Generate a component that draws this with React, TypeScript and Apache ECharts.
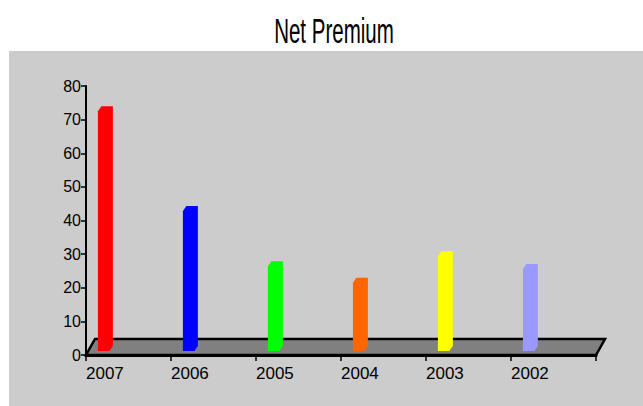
import React, { useEffect, useRef } from "react";
import * as echarts from "echarts";

// Net premium per year, newest first
const categories = ["2007", "2006", "2005", "2004", "2003", "2002"];
const premiums = [71.3, 41.6, 25.2, 20.3, 28.2, 24.4];
const barColors = ["#ff0000", "#0000ff", "#00ff00", "#ff6600", "#ffff00", "#9999ff"];
const yMax = 80;
const yStep = 10;

const FONT = "'Liberation Sans', Arial, sans-serif";

export default function App() {
  const ref = useRef<HTMLDivElement>(null);

  useEffect(() => {
    if (!ref.current) return;
    const chart = echarts.init(ref.current, null, { renderer: "svg" });

    // depth of the floor slab, in pixels (back edge offset)
    const floorDx = 9;
    const floorDy = -16;

    chart.setOption({
      animation: false,
      backgroundColor: "#ffffff",
      graphic: [
        {
          type: "rect",
          z: -10,
          shape: { x: 9, y: 51, width: 634, height: 355 },
          style: { fill: "#cccccc" },
        },
        {
          // condensed title lettering
          type: "text",
          x: 334,
          y: 30,
          scaleX: 0.57,
          style: {
            text: "Net Premium",
            fontFamily: FONT,
            fontSize: 36,
            fill: "#000000",
            align: "center",
            verticalAlign: "middle",
          },
        },
      ],
      grid: { left: 86, right: 47, top: 86, bottom: 51, containLabel: false },
      xAxis: {
        type: "value",
        min: 0,
        max: categories.length,
        interval: 1,
        splitLine: { show: false },
        axisLine: { show: true, lineStyle: { color: "#000000", width: 3 } },
        axisTick: { show: true, length: 6, lineStyle: { color: "#000000", width: 1.5 } },
        axisLabel: {
          formatter: (v: number) => categories[v] ?? "",
          align: "left",
          margin: 10,
          color: "#000000",
          fontFamily: FONT,
          fontSize: 17,
        },
        z: 5,
      },
      yAxis: {
        type: "value",
        min: 0,
        max: yMax,
        interval: yStep,
        splitLine: { show: false },
        axisLine: { show: true, lineStyle: { color: "#000000", width: 2 } },
        axisTick: { show: true, length: 5, lineStyle: { color: "#000000", width: 1.5 } },
        axisLabel: {
          margin: 5,
          color: "#000000",
          fontFamily: FONT,
          fontSize: 16,
        },
      },
      series: [
        {
          // floor slab under the columns
          type: "custom",
          z: 1,
          silent: true,
          data: [[0]],
          renderItem: (_params: any, api: any) => {
            const a = api.coord([0, 0]);
            const b = api.coord([categories.length, 0]);
            return {
              type: "polygon",
              shape: {
                points: [
                  [a[0], a[1]],
                  [b[0], b[1]],
                  [b[0] + floorDx, b[1] + floorDy],
                  [a[0] + floorDx, a[1] + floorDy],
                ],
              },
              style: { fill: "#808080", stroke: "#000000", lineWidth: 2.5 },
            };
          },
        },
        {
          // 3-D style columns
          type: "custom",
          z: 3,
          data: premiums.map((v, i) => [i, v]),
          renderItem: (params: any, api: any) => {
            const i = api.value(0);
            const v = api.value(1);
            const base = api.coord([i, 0]);
            const top = api.coord([i, v]);
            const band = api.size([1, 0])[0];
            const sink = 4;
            const dx = 3.5;
            const dy = -5;
            const x0 = base[0] + band * 0.14;
            const x1 = x0 + band * 0.135;
            const yb = base[1] - sink;
            const yt = top[1] - sink;
            return {
              type: "polygon",
              shape: {
                points: [
                  [x0, yt],
                  [x0 + dx, yt + dy],
                  [x1 + dx, yt + dy],
                  [x1 + dx, yb + dy],
                  [x1, yb],
                  [x0, yb],
                ],
              },
              style: { fill: barColors[params.dataIndex % barColors.length] },
            };
          },
        },
      ],
    });

    return () => chart.dispose();
  }, []);

  return (
    <div
      ref={ref}
      style={{ position: "fixed", left: 0, top: 0, width: 643, height: 406 }}
    />
  );
}
